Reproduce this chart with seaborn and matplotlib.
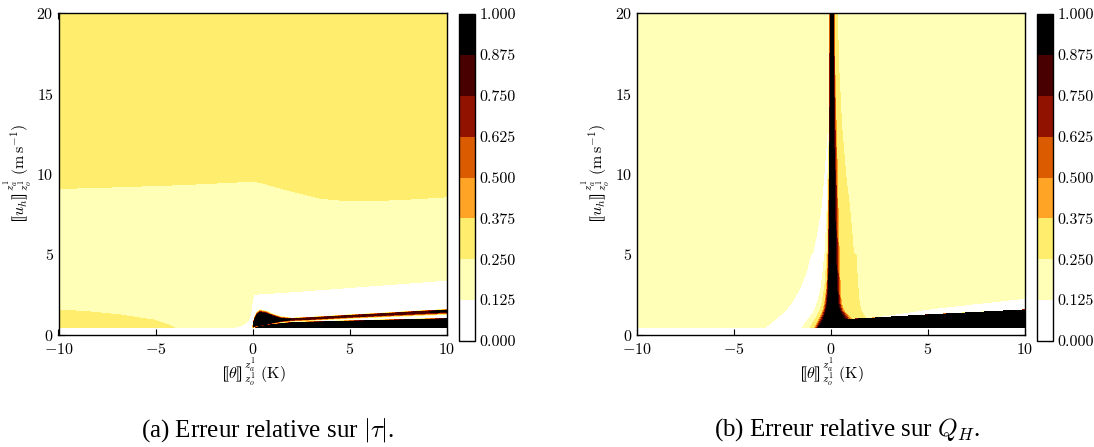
import numpy as np
import matplotlib
matplotlib.use("Agg")
import matplotlib.pyplot as plt
import seaborn as sns
from matplotlib import colormaps

# ---------------- data ----------------
levels = [0.0, 0.125, 0.25, 0.375, 0.5, 0.625, 0.75, 0.875, 1.0]
theta_ticks = [-10, -5, 0, 5, 10]
u_ticks = [0, 5, 10, 15, 20]
u_min = 0.45

# representative error values of flat regions
val_white = 0.05
val_pale = 0.19
val_yellow = 0.31

# ---- panel (a): |tau| ----
a_b1_x = [-10, -7.5, -5, -2.5, 0, 0.5, 1.5, 2.5, 3.5, 4.5, 5.5, 7, 8.5, 10]
a_b1_u = [9.1, 9.18, 9.28, 9.4, 9.55, 9.45, 9.1, 8.8, 8.5, 8.38, 8.33, 8.38, 8.47, 8.58]
a_patch_x = [-10, -8.5, -6.8, -5.1, -4.5, -4.0]
a_patch_u = [1.55, 1.45, 1.24, 0.93, 0.7, 0.45]
a_white_x = [-0.97, -0.53, -0.27, -0.14, -0.07, 0.0, 0.07, 0.3, 2.0, 5.0, 10.0]
a_white_u = [0.45, 0.62, 0.82, 1.13, 1.55, 2.17, 2.48, 2.55, 2.68, 2.95, 3.40]
a_band_x = [0.02, 0.1, 0.25, 0.4, 0.7, 1.0, 1.45, 2.0, 3.0, 5.0, 7.0, 8.7, 10.0]
a_low_u = [0.40, 0.40, 0.46, 0.52, 0.57, 0.62, 0.68, 0.74, 0.78, 0.84, 0.90, 0.95, 0.99]
a_low_ramp = 0.06
a_bot_u = [0.45, 0.45, 0.52, 0.56, 0.62, 0.68, 0.76, 0.82, 0.88, 1.00, 1.10, 1.18, 1.24]
a_pklo_u = [0.50, 0.60, 0.62, 0.62, 0.68, 0.78, 0.90, 0.96, 1.01, 1.15, 1.27, 1.38, 1.45]
a_pkhi_u = [0.55, 0.90, 1.25, 1.35, 1.30, 1.15, 0.98, 0.99, 1.05, 1.19, 1.32, 1.45, 1.52]
a_top_u = [0.60, 1.15, 1.50, 1.60, 1.52, 1.35, 1.18, 1.06, 1.12, 1.27, 1.40, 1.52, 1.60]
a_peak_val = [0.8, 1.0, 1.0, 1.0, 1.0, 1.0, 1.0, 0.86, 0.86, 0.86, 0.86, 0.86, 0.9]

# ---- panel (b): Q_H ----
b_rows_u = [0.45, 0.7, 1.0, 1.5, 2.0, 3.0, 4.0, 4.9, 5.1, 6.0, 8.0, 10.0, 13.0, 16.0, 16.5, 20.0]
b_wl = [-3.42, -3.15, -2.86, -2.39, -2.03, -1.57, -1.25, -1.08, -0.95, -0.78, -0.50, -0.36, -0.18, -0.08, -0.09, -0.09]
b_wr = [-1.45, -1.35, -1.15, -0.85, -0.70, -0.50, -0.40, -0.33, -0.31, -0.27, -0.20, -0.16, -0.11, -0.09, -0.09, -0.09]
b_ly = [-0.85, -0.75, -0.60, -0.42, -0.32, -0.22, -0.18, -0.16, -0.15, -0.14, -0.12, -0.10, -0.08, -0.07, -0.07, -0.06]
b_sl = [-0.60, -0.45, -0.33, -0.20, -0.14, -0.09, -0.08, -0.07, -0.07, -0.06, -0.06, -0.05, -0.04, -0.03, -0.03, -0.03]
b_sr = [1.50, 1.00, 0.60, 0.38, 0.30, 0.25, 0.22, 0.20, 0.20, 0.18, 0.15, 0.13, 0.11, 0.10, 0.10, 0.09]
b_or = [1.60, 1.40, 1.10, 0.70, 0.55, 0.50, 0.47, 0.45, 0.45, 0.42, 0.38, 0.35, 0.28, 0.22, 0.21, 0.18]
b_ye = [2.00, 1.90, 1.80, 1.55, 1.45, 1.38, 1.33, 1.30, 1.15, 1.10, 0.95, 0.75, 0.55, 0.42, 0.40, 0.32]
b_profile_vals = [0.05, 0.36, 1.0, 1.0, 0.31, 0.31, 0.0]
b_band_x = [0.0, 1.4, 5.0, 10.0]
b_band_u = [0.90, 1.00, 1.25, 1.56]
b_wedge_x = [1.6, 5.3, 10.0]
b_wedge_u = [1.00, 1.65, 2.28]

captions = [r"(a) Erreur relative sur $|\tau|$.", r"(b) Erreur relative sur $Q_H$."]

# ---------------- style ----------------
sns.set_theme(style="ticks")
plt.rcParams.update({
    "font.family": "serif",
    "font.serif": ["cmr10"],
    "mathtext.fontset": "cm",
    "axes.formatter.use_mathtext": True,
    "axes.unicode_minus": True,
    "font.size": 11.5,
    "xtick.labelsize": 11.5,
    "ytick.labelsize": 11.5,
    "axes.labelsize": 11.5,
    "xtick.direction": "in",
    "ytick.direction": "in",
    "xtick.top": True,
    "ytick.right": True,
    "xtick.major.size": 4,
    "ytick.major.size": 4,
    "xtick.major.width": 0.8,
    "ytick.major.width": 0.8,
    "xtick.major.pad": 5,
    "axes.edgecolor": "black",
    "axes.linewidth": 1.0,
    "xtick.color": "black",
    "ytick.color": "black",
    "text.color": "black",
    "axes.labelcolor": "black",
})

cmap = colormaps["afmhot_r"]
colors = [cmap(v) for v in np.linspace(0, 1, len(levels) - 1)]

# ---------------- fields ----------------
xg = np.linspace(-10, 10, 2001)
yg = np.linspace(u_min, 20, 1956)
X, Y = np.meshgrid(xg, yg)

# panel (a)
Za = np.full(X.shape, val_yellow)
Za[Y < np.interp(X, a_b1_x, a_b1_u)] = val_pale
Za[(X <= a_patch_x[-1]) & (Y < np.interp(X, a_patch_x, a_patch_u))] = val_yellow
Za[(X >= a_white_x[0]) & (Y < np.interp(X, a_white_x, a_white_u))] = val_white
low = np.interp(X, a_band_x, a_low_u)
lower = np.clip((low + a_low_ramp - Y) / a_low_ramp, 0, 1)
bot = np.interp(X, a_band_x, a_bot_u)
pklo = np.interp(X, a_band_x, a_pklo_u)
pkhi = np.interp(X, a_band_x, a_pkhi_u)
top = np.interp(X, a_band_x, a_top_u)
pv = np.interp(X, a_band_x, a_peak_val)
with np.errstate(divide="ignore", invalid="ignore"):
    up = np.where(Y < pklo, pv * (Y - bot) / (pklo - bot),
                  np.where(Y <= pkhi, pv, pv * (top - Y) / (top - pkhi)))
up = np.where((Y < bot) | (Y > top), 0.0, np.clip(up, 0, 1))
inband = X >= a_band_x[0]
Za = np.where(inband, np.maximum(Za, np.maximum(lower, up)), Za)

# panel (b)
Zb = np.full(X.shape, val_pale)
wl = np.interp(Y, b_rows_u, b_wl)
wr = np.interp(Y, b_rows_u, b_wr)
Zb[(X > wl) & (X < wr)] = val_white
bb = np.interp(X, b_band_x, b_band_u)
wt = np.interp(X, b_wedge_x, b_wedge_u)
Zb[(X >= b_wedge_x[0]) & (Y > bb) & (Y < wt)] = val_white
spike = np.zeros_like(Zb)
for i, u in enumerate(yg):
    xp = [np.interp(u, b_rows_u, arr) for arr in (b_wr, b_ly, b_sl, b_sr, b_or, b_ye)]
    xp.append(xp[-1] + 0.01)
    spike[i] = np.interp(xg, xp, b_profile_vals, left=0.0, right=0.0)
Zb = np.maximum(Zb, spike)
Zb[(X >= b_band_x[0]) & (Y < bb)] = 1.0

# ---------------- figure ----------------
W, H = 1094, 447
fig = plt.figure(figsize=(W / 100, H / 100), dpi=100)

panels = [
    (Za, 58.5, 458.5, 268),
    (Zb, 637.0, 1036.5, 847),
]
ylab = r"$⟦u_h⟧_{z_o^1}^{z_a^1}\ (\mathrm{m\,s}^{-1})$"
xlab = r"$⟦\theta⟧_{z_o^1}^{z_a^1}\ (\mathrm{K})$"

for (Z, axl, cbl, capx), cap in zip(panels, captions):
    ax = fig.add_axes([axl / W, (H - 335) / H, 388 / W, 322 / H])
    cax = fig.add_axes([cbl / W, (H - 341) / H, 16 / W, 327 / H])
    cs = ax.contourf(X, Y, Z, levels=levels, colors=colors)
    ax.set_xlim(-10, 10)
    ax.set_ylim(0, 20)
    ax.set_xticks(theta_ticks)
    ax.set_yticks(u_ticks)
    ax.set_xlabel(xlab, labelpad=0)
    ax.set_ylabel(ylab, labelpad=1)
    for s in ax.spines.values():
        s.set_visible(True)
        s.set_color("black")
    cb = fig.colorbar(cs, cax=cax, ticks=levels, format="%.3f")
    cb.outline.set_linewidth(1.0)
    cb.outline.set_edgecolor("black")
    cax.tick_params(direction="in", length=4, width=0.8, labelsize=11.5, right=True, left=False)
    fig.text(capx / W, 1 - 430 / H, cap, ha="center", va="center",
             family="Liberation Serif", size=18)

fig.savefig("out.png", dpi=100, facecolor="white")
